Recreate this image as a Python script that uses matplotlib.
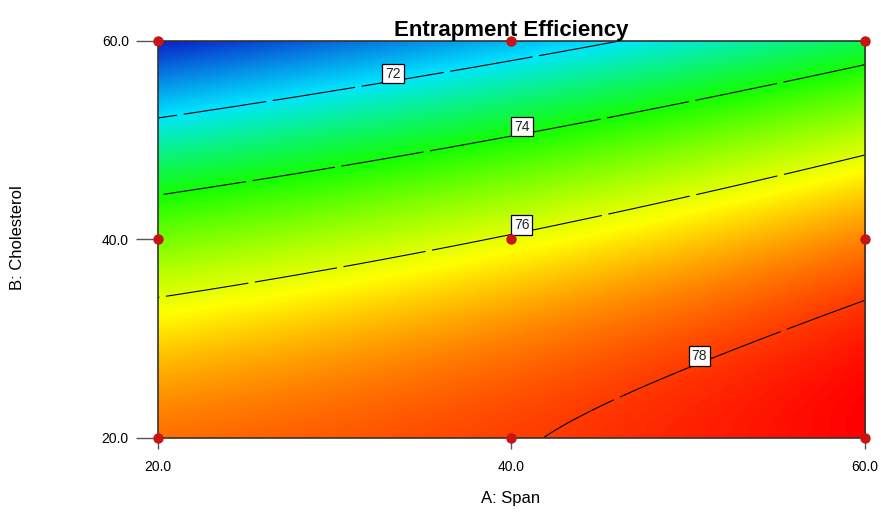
import numpy as np
import matplotlib.pyplot as plt
from matplotlib.colors import LinearSegmentedColormap

plt.rcParams['font.family'] = ['Liberation Sans', 'DejaVu Sans']

# axis ticks (actual factor values)
span_ticks = [20.0, 40.0, 60.0]
chol_ticks = [20.0, 40.0, 60.0]

# design points of the 3x3 factorial
design_span = [20, 20, 20, 40, 40, 40, 60, 60, 60]
design_chol = [20, 40, 60, 20, 40, 60, 20, 40, 60]

# quadratic model in coded units: b0, A, B, AB, A^2, B^2
coef = [76.08, 1.195, -3.275, 0.705, 0.067, -1.40]

contour_levels = [72, 74, 76, 78]
label_spots = [(33.2, 57.0), (40.5, 51.5), (40.5, 41.5), (50.5, 28.1)]


def model(span, chol):
    a = (span - 40.0) / 20.0
    b = (chol - 40.0) / 20.0
    return (coef[0] + coef[1] * a + coef[2] * b + coef[3] * a * b
            + coef[4] * a ** 2 + coef[5] * b ** 2)


xs = np.linspace(20, 60, 400)
ys = np.linspace(20, 60, 400)
X, Y = np.meshgrid(xs, ys)
Z = model(X, Y)

cmap = LinearSegmentedColormap.from_list(
    "dx", [(0.0, "#0a1ec8"), (0.27, "#00e6ff"), (0.5, "#14ff00"),
           (0.75, "#ffff00"), (1.0, "#ff0000")])

fig = plt.figure(figsize=(8.81, 5.23), dpi=100)
ax = fig.add_axes([0.1793, 0.1631, 0.8025, 0.7591])

ax.imshow(Z, extent=(20, 60, 20, 60), origin="lower", aspect="auto",
          cmap=cmap, vmin=Z.min(), vmax=Z.max(), interpolation="bilinear")

cs = ax.contour(X, Y, Z, levels=contour_levels, colors="k", linewidths=0.8)
cs.set_linestyle((0, (75, 6)))
labels = ax.clabel(cs, fmt="%d", manual=label_spots, inline=False, fontsize=10)
for t in labels:
    x, y = t.get_position()
    t.set_position((x, y + 0.75))  # box sits on top of the line
    t.set_rotation(0)
    t.set_color("#222222")
    t.set_bbox(dict(boxstyle="square,pad=0.2", fc="white", ec="black", lw=0.9))

ax.plot(design_span, design_chol, "o", color="#c81414", ms=6.5,
        clip_on=False, zorder=5)

ax.set_xlim(20, 60)
ax.set_ylim(20, 60)
ax.set_xticks(span_ticks)
ax.set_xticklabels([f"{v:.1f}" for v in span_ticks])
ax.set_yticks(chol_ticks)
ax.set_yticklabels([f"{v:.1f}" for v in chol_ticks])
ax.tick_params(axis="x", length=8, width=1, color="#555555", pad=8, labelsize=10)
ax.tick_params(axis="y", length=16, width=1, color="#555555", pad=5, labelsize=10)
for s in ax.spines.values():
    s.set_color("#333333")
    s.set_linewidth(1.2)

ax.set_title("Entrapment Efficiency", fontsize=16, fontweight="bold", pad=3)
fig.text(511 / 881, 1 - 498 / 523, "A: Span", ha="center", va="center", fontsize=12)
fig.text(18 / 881, 1 - 238 / 523, "B: Cholesterol", ha="center", va="center",
         rotation=90, fontsize=12)

fig.savefig("out.png", dpi=100)
